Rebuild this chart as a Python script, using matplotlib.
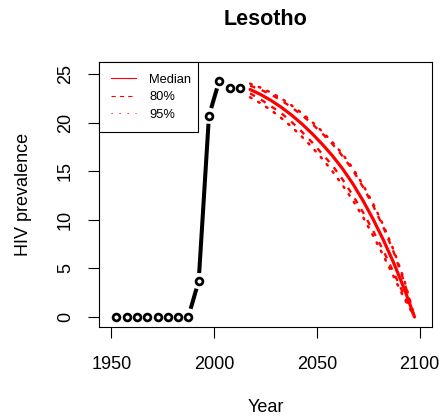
import matplotlib
matplotlib.use('Agg')
import matplotlib.pyplot as plt
import numpy as np
from matplotlib.lines import Line2D

plt.rcParams['font.family'] = ['Liberation Sans', 'DejaVu Sans']
plt.rcParams['lines.scale_dashes'] = False

# ---- data ----
title = "Lesotho"
obs_years = [1952.5, 1957.5, 1962.5, 1967.5, 1972.5, 1977.5, 1982.5, 1987.5,
             1992.5, 1997.5, 2002.5, 2007.5, 2012.5]
obs_vals = [0.0, 0.0, 0.0, 0.0, 0.0, 0.0, 0.0, 0.05, 3.7, 20.7, 24.3, 23.6, 23.6]

proj_years = [2017.5, 2022.5, 2027.5, 2032.5, 2037.5, 2042.5, 2047.5, 2052.5, 2057.5,
              2062.5, 2067.5, 2072.5, 2077.5, 2082.5, 2087.5, 2092.5, 2097.5]
median = [23.4, 22.9, 22.3, 21.6, 20.8, 19.9, 18.9, 17.8, 16.6, 15.25, 13.7, 11.95, 10.0, 7.85, 5.5, 2.9, 0.0]
upper80 = [23.8, 23.4, 22.9, 22.3, 21.6, 20.8, 19.9, 18.9, 17.8, 16.55, 15.1, 13.35, 11.4, 9.15, 6.6, 3.6, 0.0]
lower80 = [23.0, 22.4, 21.7, 21.0, 20.1, 19.1, 18.0, 16.8, 15.6, 14.15, 12.5, 10.75, 8.8, 6.75, 4.5, 2.2, 0.0]
upper95 = [24.0, 23.6, 23.1, 22.5, 21.8, 21.0, 20.1, 19.1, 18.0, 16.75, 15.3, 13.55, 11.6, 9.35, 6.8, 3.8, 0.0]
lower95 = [22.6, 22.0, 21.3, 20.5, 19.6, 18.6, 17.5, 16.3, 15.0, 13.55, 12.0, 10.25, 8.3, 6.25, 4.1, 1.9, 0.0]

xticks = [1950, 2000, 2050, 2100]
yticks = [0, 5, 10, 15, 20, 25]
legend_labels = ["Median", "80%", "95%"]

# ---- figure ----
W, H = 446, 420
fig = plt.figure(figsize=(W / 100, H / 100), dpi=100)
L, R, T, B = 99, 432, 62, 327
ax = fig.add_axes([L / W, 1 - B / H, (R - L) / W, (B - T) / H])
ax.set_xlim(1944, 2106)
ax.set_ylim(-1.03, 26.23)

red = '#FF0000'
# projection lines
ax.plot(proj_years, median, color=red, lw=2.3, solid_capstyle='round', zorder=3)
for arr in (upper80, lower80):
    ax.plot(proj_years, arr, color=red, lw=1.7, dashes=(4, 5), dash_capstyle='butt', zorder=3)
for arr in (upper95, lower95):
    ax.plot(proj_years, arr, color=red, lw=1.8, dashes=(1.2, 5.5), dash_capstyle='round', zorder=3)

# observed: R type="b" (segments with gaps around points)
pts = ax.transData.transform(np.column_stack([obs_years, obs_vals]))
inv = ax.transData.inverted()
gap = 8.0
for p0, p1 in zip(pts[:-1], pts[1:]):
    d = p1 - p0
    Ln = np.hypot(d[0], d[1])
    if Ln > 2 * gap:
        u = d / Ln
        seg = inv.transform(np.array([p0 + u * gap, p1 - u * gap]))
        ax.plot(seg[:, 0], seg[:, 1], color='black', lw=2.9, solid_capstyle='butt', zorder=4)
ax.plot(obs_years, obs_vals, linestyle='none', marker='o', mfc='none', mec='black',
        ms=4.9, mew=1.95, zorder=5)

# axes styling
ax.set_xticks(xticks)
ax.set_yticks(yticks)
ax.set_xticklabels([str(t) for t in xticks])
ax.set_yticklabels([str(t) for t in yticks], rotation=90, va='center')
ax.tick_params(axis='both', direction='out', length=7.6, width=0.8, labelsize=13, color='black')
ax.tick_params(axis='x', pad=13.5)
ax.tick_params(axis='y', pad=10.5)
for s in ax.spines.values():
    s.set_linewidth(0.8)
    s.set_color('black')

# legend
handles = [
    Line2D([], [], color=red, lw=0.8),
    Line2D([], [], color=red, lw=0.8, dashes=(3.1, 2.9)),
    Line2D([], [], color=red, lw=0.8, dashes=(0.8, 5)),
]
leg = ax.legend(handles, legend_labels, loc='upper left',
                bbox_to_anchor=(0, 0, (198 - L) / (R - L), 1), mode='expand',
                borderaxespad=0, frameon=True, fancybox=False, edgecolor='black',
                framealpha=1, fontsize=9.3, handlelength=2.0, handletextpad=1.0,
                labelspacing=0.42, borderpad=0.9)
leg.get_frame().set_linewidth(0.8)

# text
fig.text(265.5 / W, 1 - 25 / H, title, ha='center', va='baseline', fontsize=15.5, fontweight='bold')
fig.text(265.5 / W, 1 - 412 / H, "Year", ha='center', va='baseline', fontsize=13)
fig.text(28 / W, 1 - 194.5 / H, "HIV prevalence", ha='center', va='baseline', rotation=90,
         rotation_mode='anchor', fontsize=13)

fig.savefig('out.png', dpi=100)
